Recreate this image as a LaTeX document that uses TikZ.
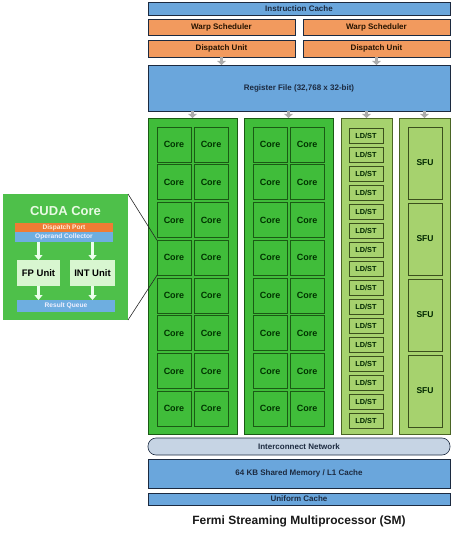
\documentclass[tikz,border=0pt]{standalone}
\usepackage{fontspec}
\setmainfont{Liberation Sans}
\usetikzlibrary{arrows.meta}
\definecolor{blueF}{HTML}{6AA6DC}
\definecolor{orangeF}{HTML}{F29A5E}
\definecolor{greenF}{HTML}{40BD3A}
\definecolor{greenD}{HTML}{1A5A14}
\definecolor{oliveF}{HTML}{A6D26E}
\definecolor{oliveD}{HTML}{4A6424}
\definecolor{navyD}{HTML}{1C2A40}
\definecolor{insetF}{HTML}{4EC04A}
\definecolor{insetOr}{HTML}{F07C34}
\definecolor{insetBl}{HTML}{6EAEE0}
\definecolor{unitF}{HTML}{D8F6D0}
\definecolor{netF}{HTML}{C6D4E4}
\newcommand\mkbox[7]{\node[#2, minimum width={(#5-#3)*1pt}, minimum height={(#6-#4)*1pt}] (#1) at ({(#3+#5)/2},{(#4+#6)/2}) {#7};}
\tikzset{
  box/.style={draw, inner sep=0pt, outer sep=0pt, line width=0.6pt, font=\bfseries\fontsize{8}{9}\selectfont},
  bluebox/.style={box, fill=blueF, draw=navyD, text=navyD},
  orangebox/.style={box, fill=orangeF, draw=navyD, text=black!85!orange},
  block/.style={box, fill=greenF, draw=greenD, line width=0.8pt},
  corebox/.style={box, fill=greenF, draw=greenD, line width=0.9pt, text=black!80!green, font=\bfseries\fontsize{9}{10}\selectfont},
  oliveblock/.style={box, fill=oliveF, draw=oliveD, line width=0.8pt},
  ldstbox/.style={box, fill=oliveF, draw=oliveD!80!black, line width=0.8pt, text=black!85!green, font=\bfseries\fontsize{7.3}{8}\selectfont},
  sfubox/.style={box, fill=oliveF, draw=oliveD!80!black, line width=0.8pt, text=black!85!green, font=\bfseries\fontsize{8.5}{9}\selectfont},
  netbox/.style={box, fill=netF, draw=navyD, rounded corners=8pt, text=navyD},
  grayarrow/.style={draw=gray!65, line width=3.5pt, -{Triangle[width=8.5pt,length=4pt]}},
  whitearrow/.style={draw=white!92!green, line width=3pt, -{Triangle[width=8pt,length=5pt]}},
  insetbox/.style={inner sep=0pt, outer sep=0pt, fill=insetF},
  strip/.style={inner sep=0pt, outer sep=0pt, font=\bfseries\fontsize{6.6}{7}\selectfont},
  unitbox/.style={inner sep=0pt, outer sep=0pt, fill=unitF, text=black, font=\bfseries\fontsize{9.5}{10}\selectfont},
}
\begin{document}
\begin{tikzpicture}[x=1pt,y=-1pt]
\useasboundingbox (0,0) rectangle (454,534);
% top section
\mkbox{icache}{bluebox}{148}{2}{450}{15}{Instruction Cache}
\mkbox{warp1}{orangebox}{148}{19}{295}{35}{Warp Scheduler}
\mkbox{warp2}{orangebox}{303}{19}{450}{35}{Warp Scheduler}
\mkbox{disp1}{orangebox}{148}{40}{295}{57}{Dispatch Unit}
\mkbox{disp2}{orangebox}{303}{40}{450}{57}{Dispatch Unit}
\mkbox{reg}{bluebox}{148}{65}{450}{111}{Register File (32,768 x 32-bit)}
% blocks
\mkbox{blk1}{block}{148}{118}{237}{434}{}
\mkbox{blk2}{block}{244}{118}{333}{434}{}
\mkbox{blk3}{oliveblock}{341}{118}{392}{434}{}
\mkbox{blk4}{oliveblock}{399}{118}{450}{434}{}
% cores
\foreach \r in {1,...,8}{
  \pgfmathsetmacro\yt{127+(\r-1)*37.75}
  \pgfmathsetmacro\yb{\yt+35}
  \mkbox{ca\r}{corebox}{157}{\yt}{191}{\yb}{Core}
  \mkbox{cb\r}{corebox}{194}{\yt}{228}{\yb}{Core}
  \mkbox{cc\r}{corebox}{253}{\yt}{287}{\yb}{Core}
  \mkbox{cd\r}{corebox}{290}{\yt}{324}{\yb}{Core}
}
% LD/ST
\foreach \r in {1,...,16}{
  \pgfmathsetmacro\yt{128+(\r-1)*19}
  \pgfmathsetmacro\yb{\yt+15}
  \mkbox{ld\r}{ldstbox}{349}{\yt}{383}{\yb}{LD/ST}
}
% SFU
\foreach \r in {1,...,4}{
  \pgfmathsetmacro\yt{127+(\r-1)*76}
  \pgfmathsetmacro\yb{\yt+72}
  \mkbox{sfu\r}{sfubox}{408}{\yt}{442}{\yb}{SFU}
}
% bottom
\mkbox{net}{netbox}{148}{438}{450}{455}{Interconnect Network}
\mkbox{smem}{bluebox}{148}{459}{450}{488}{64 KB Shared Memory / L1 Cache}
\mkbox{ucache}{bluebox}{148}{493}{450}{505}{Uniform Cache}
\node[font=\bfseries\fontsize{12}{14}\selectfont, text=black!90] (title) at (299,521) {Fermi Streaming Multiprocessor (SM)};
% gray arrows
\draw[grayarrow] (disp1.south) -- (disp1.south |- reg.north);
\draw[grayarrow] (disp2.south) -- (disp2.south |- reg.north);
\foreach \b in {blk1,blk2,blk3,blk4}{
  \draw[grayarrow] (reg.south -| \b.north) -- (\b.north);
}
% inset
\mkbox{inset}{insetbox}{3}{194}{128}{320}{}
\node[font=\bfseries\fontsize{13}{14}\selectfont, text=unitF!60!white] (ititle) at (65.5,211) {CUDA Core};
\mkbox{dport}{strip, fill=insetOr, text=orange!15!white}{15}{223}{113}{232}{Dispatch Port}
\mkbox{opcol}{strip, fill=insetBl, text=blue!6!white}{15}{232}{113}{242}{Operand Collector}
\mkbox{fpu}{unitbox}{17}{260}{60}{286}{FP Unit}
\mkbox{intu}{unitbox}{70}{260}{115}{286}{INT Unit}
\mkbox{rq}{strip, fill=insetBl, text=blue!6!white}{17}{300}{115}{312}{Result Queue}
\draw[whitearrow] (opcol.south -| fpu.north) -- (fpu.north);
\draw[whitearrow] (opcol.south -| intu.north) -- (intu.north);
\draw[whitearrow] (fpu.south) -- (fpu.south |- rq.north);
\draw[whitearrow] (intu.south) -- (intu.south |- rq.north);
\draw[black!85, line width=0.6pt] (inset.north east) -- (ca4.north west);
\draw[black!85, line width=0.6pt] (inset.south east) -- (ca4.south west);
\end{tikzpicture}
\end{document}
